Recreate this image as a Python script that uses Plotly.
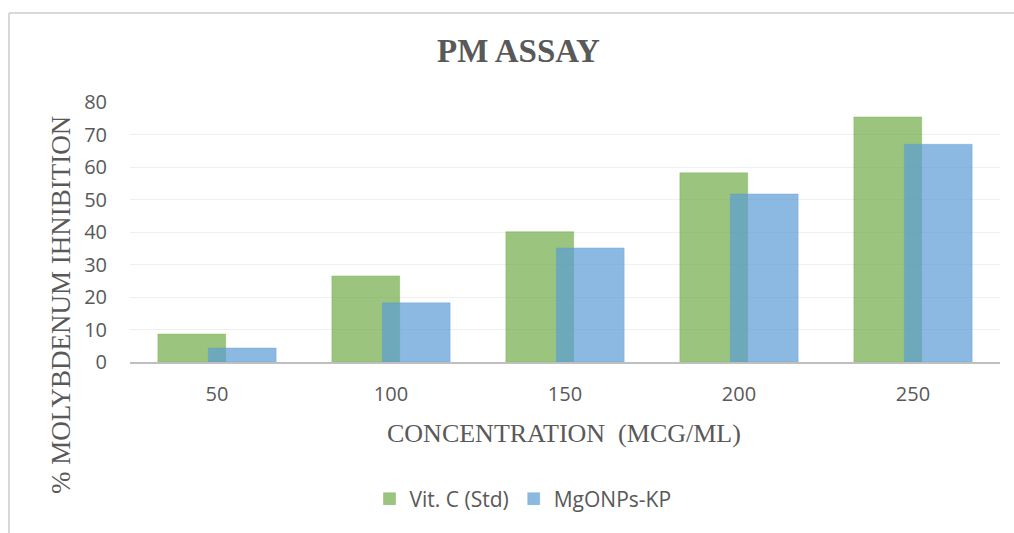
import plotly.graph_objects as go

categories = ["50", "100", "150", "200", "250"]
vitc = [8.6, 26.5, 40.1, 58.2, 75.4]
mgonps = [4.3, 18.2, 35.1, 51.7, 67.0]
series_names = ["Vit. C (Std)", "MgONPs-KP"]
yticks = [0, 10, 20, 30, 40, 50, 60, 70, 80]

GREEN = "rgba(112,173,71,0.7)"
BLUE = "rgba(91,155,213,0.7)"
TXT = "#595959"
SANS = "Open Sans"
SERIF = "Liberation Serif"

L, R, T, B = 130, 14, 102, 171
W, H = 1014, 533
pw = W - L - R
ph = H - T - B


def px_to_paper(xp, yp):
    return (xp - L) / pw, (H - B - yp) / ph


fig = go.Figure()
fig.add_trace(go.Bar(x=categories, y=vitc, name=series_names[0],
                     marker=dict(color=GREEN, line=dict(color="rgba(112,173,71,0.35)", width=1)),
                     width=0.39, offset=-0.34))
fig.add_trace(go.Bar(x=categories, y=mgonps, name=series_names[1],
                     marker=dict(color=BLUE, line=dict(color="rgba(91,155,213,0.35)", width=1)),
                     width=0.39, offset=-0.05))

tx, ty = px_to_paper(518, 51)
ax_x, ax_y = px_to_paper(564, 433)
yx, yy = px_to_paper(61, 305)
lx0, ly0 = px_to_paper(9, 13)
lx1, _ = px_to_paper(1020, 13)
_, lyb = px_to_paper(0, 545)
lgx, lgy = px_to_paper(523, 499)

fig.update_layout(
    width=W, height=H,
    margin=dict(l=L, r=R, t=T, b=B),
    paper_bgcolor="white", plot_bgcolor="white",
    barmode="overlay",
    showlegend=True,
    legend=dict(orientation="h", x=lgx, xanchor="center", y=lgy, yanchor="middle",
                font=dict(family=SANS, size=21, color=TXT),
                traceorder="normal"),
    xaxis=dict(type="category", showgrid=False, showline=True, linecolor="#bfbfbf", linewidth=2,
               ticks="", tickfont=dict(family=SANS, size=20, color=TXT), ticklabelstandoff=13,
               range=[-0.5, 4.5]),
    yaxis=dict(range=[0, 80], tickvals=yticks, showgrid=True, gridcolor="#efefef", gridwidth=1,
               zeroline=False, showline=False, ticks="",
               tickfont=dict(family=SANS, size=20, color=TXT), ticklabelstandoff=22),
    annotations=[
        dict(text="<b>PM ASSAY</b>", x=tx, y=ty, xref="paper", yref="paper", showarrow=False,
             xanchor="center", yanchor="middle",
             font=dict(family=SERIF, size=33, color=TXT)),
        dict(text="CONCENTRATION\u00a0 (MCG/ML)", x=ax_x, y=ax_y, xref="paper", yref="paper",
             showarrow=False, xanchor="center", yanchor="middle",
             font=dict(family=SERIF, size=26, color=TXT)),
        dict(text="% MOLYBDENUM IHNIBITION", x=yx, y=yy, xref="paper", yref="paper",
             textangle=-90, showarrow=False, xanchor="center", yanchor="middle",
             font=dict(family=SERIF, size=27, color=TXT)),
    ],
    shapes=[
        dict(type="line", xref="paper", yref="paper", x0=lx0, x1=lx1, y0=ly0, y1=ly0,
             line=dict(color="#d9d9d9", width=2)),
        dict(type="line", xref="paper", yref="paper", x0=lx0, x1=lx0, y0=ly0, y1=lyb,
             line=dict(color="#d9d9d9", width=2)),
    ],
)

fig.write_html("out.html")
